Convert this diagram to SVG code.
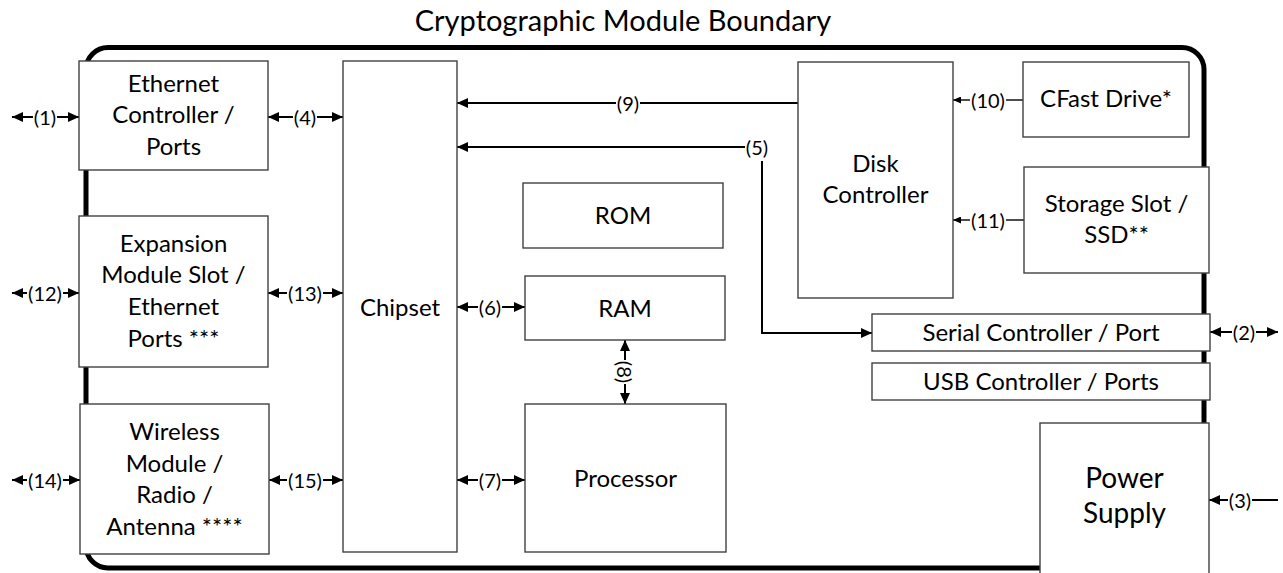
<svg xmlns="http://www.w3.org/2000/svg" width="1283" height="573" viewBox="0 0 1283 573">
<style>
.box{fill:#fff;stroke:#404040;stroke-width:1.4}
.t{font-family:Lato,"Open Sans","Liberation Sans",sans-serif;font-size:24px;fill:#000;text-anchor:middle}
.lbl{font-family:Lato,"Open Sans","Liberation Sans",sans-serif;font-size:20px;fill:#000;text-anchor:middle;dominant-baseline:central}
.c{fill:none;stroke:#000;stroke-width:2}
.cs{fill:none;stroke:#000;stroke-width:1.4}
</style>
<defs>
<marker id="ah" markerUnits="userSpaceOnUse" markerWidth="11" markerHeight="10" refX="11" refY="5" orient="auto-start-reverse"><path d="M0,0 L11,5 L0,10 z" fill="#000"/></marker>
<marker id="as" markerUnits="userSpaceOnUse" markerWidth="8" markerHeight="7" refX="8" refY="3.5" orient="auto-start-reverse"><path d="M0,0 L8,3.5 L0,7 z" fill="#000"/></marker>
</defs>
<rect width="1283" height="573" fill="#fff"/>
<text x="623" y="31" class="t" style="font-size:29px">Cryptographic Module Boundary</text>
<rect id="boundary" x="86" y="47.5" width="1118" height="520.5" rx="22" fill="none" stroke="#000" stroke-width="5"/>

<g id="connectors">
<path class="c" d="M33,117 H12" marker-end="url(#ah)"/><path class="c" d="M57,117 H79" marker-end="url(#ah)"/>
<text class="lbl" x="45" y="117">(1)</text>
<path class="c" d="M293,117 H268" marker-end="url(#ah)"/><path class="c" d="M317,117 H343" marker-end="url(#ah)"/>
<text class="lbl" x="305" y="117">(4)</text>
<path class="c" d="M27,293 H12" marker-end="url(#ah)"/><path class="c" d="M63,293 H79" marker-end="url(#ah)"/>
<text class="lbl" x="45" y="293">(12)</text>
<path class="c" d="M287,293 H268" marker-end="url(#ah)"/><path class="c" d="M323,293 H343" marker-end="url(#ah)"/>
<text class="lbl" x="305" y="293">(13)</text>
<path class="c" d="M27,480 H12" marker-end="url(#ah)"/><path class="c" d="M63,480 H80" marker-end="url(#ah)"/>
<text class="lbl" x="45" y="480">(14)</text>
<path class="c" d="M287,480 H269" marker-end="url(#ah)"/><path class="c" d="M323,480 H343" marker-end="url(#ah)"/>
<text class="lbl" x="305" y="480">(15)</text>
<path class="c" d="M478,307 H457" marker-end="url(#ah)"/><path class="c" d="M502,307 H525" marker-end="url(#ah)"/>
<text class="lbl" x="490" y="307">(6)</text>
<path class="c" d="M478,480 H457" marker-end="url(#ah)"/><path class="c" d="M502,480 H525" marker-end="url(#ah)"/>
<text class="lbl" x="490" y="480">(7)</text>
<path class="c" d="M625,360 V340" marker-end="url(#ah)"/><path class="c" d="M625,384 V404" marker-end="url(#ah)"/>
<text class="lbl" x="0" y="0" transform="translate(625,372) rotate(90)">(8)</text>
<path class="c" d="M798,103 H640"/><path class="c" d="M616,103 H457" marker-end="url(#ah)"/>
<text class="lbl" x="628" y="103">(9)</text>
<path class="c" d="M745,147 H457" marker-end="url(#ah)"/>
<text class="lbl" x="757" y="147">(5)</text>
<path class="c" d="M762,161 V333 H872" marker-end="url(#ah)"/>
<path class="cs" d="M1023,100 H1006"/><path class="cs" d="M970,100 H953" marker-end="url(#as)"/>
<text class="lbl" x="988" y="100">(10)</text>
<path class="cs" d="M1024,220 H1006"/><path class="cs" d="M970,220 H953" marker-end="url(#as)"/>
<text class="lbl" x="988" y="220">(11)</text>
<path class="c" d="M1232,332 H1210" marker-end="url(#ah)"/><path class="c" d="M1256,332 H1278" marker-end="url(#ah)"/>
<text class="lbl" x="1244" y="332">(2)</text>
<path class="c" d="M1278,500 H1252"/><path class="c" d="M1228,500 H1209" marker-end="url(#ah)"/>
<text class="lbl" x="1240" y="500">(3)</text>
</g>

<g id="ethernet"><rect class="box" x="79" y="61" width="189" height="109"/>
<text class="t" x="173.5" y="92">Ethernet</text><text class="t" x="173.5" y="123">Controller /</text><text class="t" x="173.5" y="155">Ports</text></g>
<g id="expansion"><rect class="box" x="79" y="216" width="189" height="151"/>
<text class="t" x="173.5" y="252">Expansion</text><text class="t" x="173.5" y="283">Module Slot /</text><text class="t" x="173.5" y="315">Ethernet</text><text class="t" x="173.5" y="347">Ports ***</text></g>
<g id="wireless"><rect class="box" x="80" y="404" width="189" height="150"/>
<text class="t" x="174.5" y="440">Wireless</text><text class="t" x="174.5" y="472">Module /</text><text class="t" x="174.5" y="503">Radio /</text><text class="t" x="174.5" y="535">Antenna ****</text></g>
<g id="chipset"><rect class="box" x="343" y="61" width="114" height="491"/>
<text class="t" x="400" y="316">Chipset</text></g>
<g id="rom"><rect class="box" x="523" y="183" width="200" height="65"/>
<text class="t" x="623" y="224">ROM</text></g>
<g id="ram"><rect class="box" x="525" y="276" width="200" height="64"/>
<text class="t" x="625" y="317">RAM</text></g>
<g id="processor"><rect class="box" x="525" y="404" width="201" height="148"/>
<text class="t" x="625.5" y="487">Processor</text></g>
<g id="disk"><rect class="box" x="798" y="62" width="155" height="236"/>
<text class="t" x="875.5" y="172">Disk</text><text class="t" x="875.5" y="203">Controller</text></g>
<g id="cfast"><rect class="box" x="1023" y="62" width="166" height="75"/>
<text class="t" x="1106" y="107">CFast Drive*</text></g>
<g id="storage"><rect class="box" x="1024" y="167" width="185" height="106"/>
<text class="t" x="1116.5" y="212">Storage Slot /</text><text class="t" x="1116.5" y="243">SSD**</text></g>
<g id="serial"><rect class="box" x="872" y="314" width="338" height="37"/>
<text class="t" x="1041" y="341">Serial Controller / Port</text></g>
<g id="usb"><rect class="box" x="872" y="363" width="338" height="37"/>
<text class="t" x="1041" y="390">USB Controller / Ports</text></g>
<g id="power"><rect class="box" x="1040" y="423" width="169" height="160"/>
<text class="t" x="1124.5" y="488" style="font-size:28px">Power</text><text class="t" x="1124.5" y="523" style="font-size:28px">Supply</text></g>
</svg>
